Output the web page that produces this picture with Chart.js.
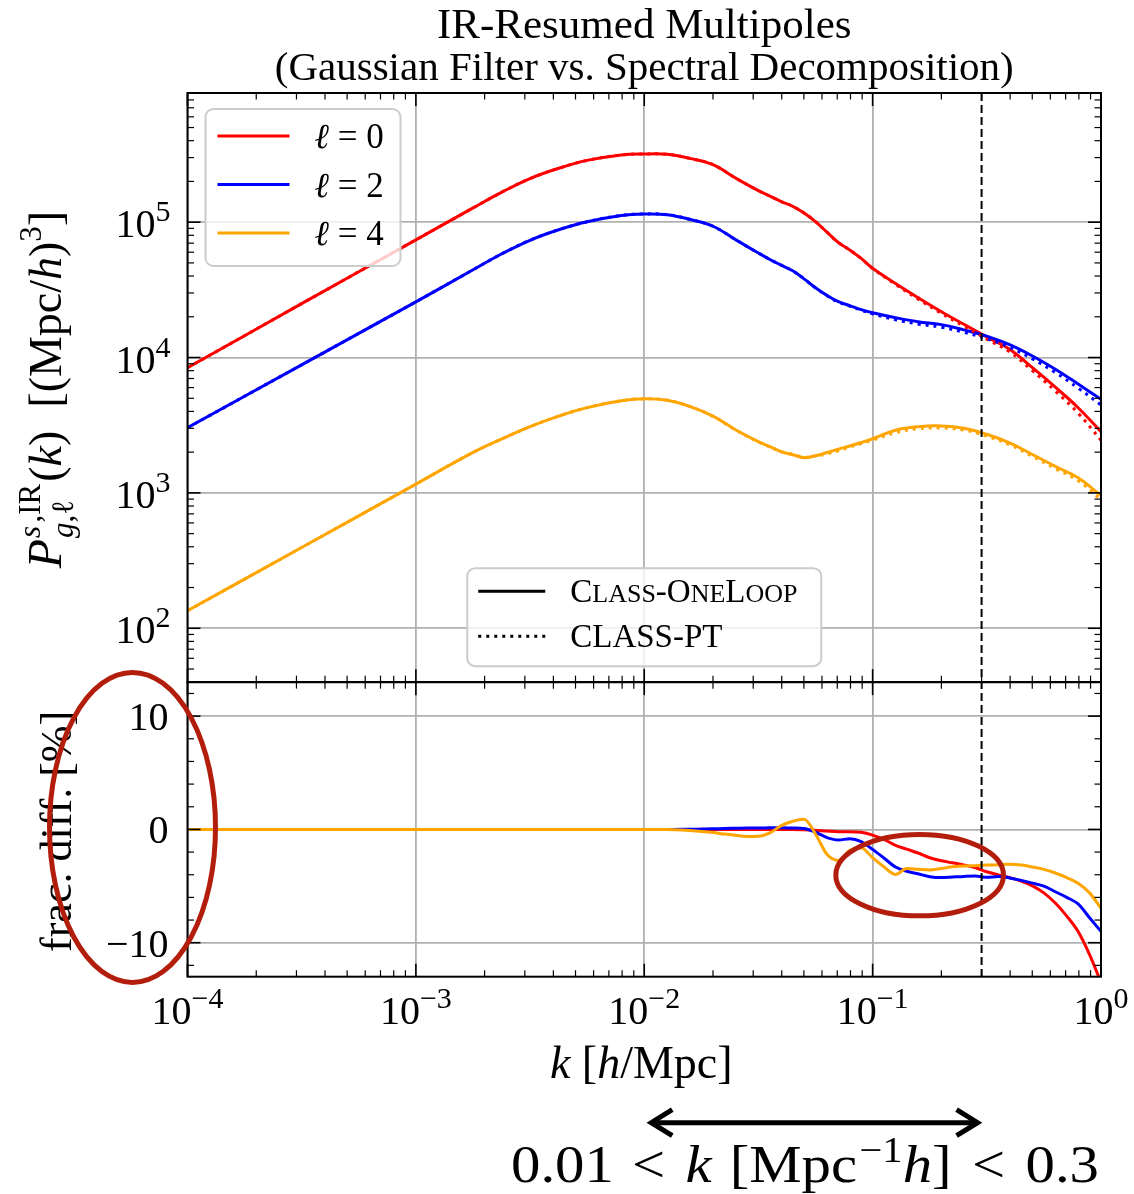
<!DOCTYPE html>
<html>
<head>
<meta charset="utf-8">
<script src="https://cdn.jsdelivr.net/npm/chart.js@4.4.1/dist/chart.umd.min.js"></script>
<style>
  html, body { margin: 0; padding: 0; background: #fff; }
</style>
</head>
<body>
<canvas id="c" width="1134" height="1194"></canvas>
<script>
// values

// top panel: k [h/Mpc] and P_l(k) [(Mpc/h)^3]
const kTop = [1e-4, 3.16e-4, 1e-3, 1.78e-3, 2.37e-3, 3.16e-3, 4.22e-3, 5.62e-3, 7.94e-3, 1e-2, 1.26e-2, 1.58e-2, 2.0e-2,
  2.51e-2, 3.16e-2, 3.55e-2, 3.98e-2, 4.47e-2, 5.01e-2, 5.62e-2, 6.31e-2, 7.08e-2, 7.94e-2, 8.91e-2,
  0.1, 0.126, 0.158, 0.2, 0.251, 0.316, 0.398, 0.501, 0.631, 0.794, 1.0];

// CLASS-OneLoop (solid)
const p0 = [8.40e3, 2.50e4, 7.40e4, 1.274e5, 1.66e5, 2.10e5, 2.50e5, 2.86e5, 3.14e5, 3.19e5, 3.17e5, 2.96e5, 2.66e5,
  2.12e5, 1.71e5, 1.56e5, 1.42e5, 1.31e5, 1.17e5, 1.01e5, 8.44e4, 7.08e4, 6.24e4, 5.40e4,
  4.57e4, 3.52e4, 2.77e4, 2.18e4, 1.76e4, 1.42e4, 1.15e4, 8.41e3, 6.04e3, 4.26e3, 2.83e3];
const p2 = [3.03e3, 8.83e3, 2.58e4, 4.45e4, 5.82e4, 7.35e4, 8.79e4, 1.007e5, 1.122e5, 1.15e5, 1.136e5, 1.05e5, 9.33e4,
  7.43e4, 5.92e4, 5.30e4, 4.81e4, 4.37e4, 3.81e4, 3.28e4, 2.88e4, 2.59e4, 2.42e4, 2.26e4,
  2.14e4, 1.97e4, 1.84e4, 1.75e4, 1.60e4, 1.44e4, 1.245e4, 1.026e4, 8.20e3, 6.37e3, 4.91e3];
const p4 = [134.6, 395, 1161, 1991, 2495, 3083, 3690, 4266, 4786, 4955, 4831, 4355, 3690,
  2931, 2392, 2193, 2013, 1915, 1822, 1880, 1987, 2104, 2222, 2355,
  2512, 2904, 3083, 3126, 3008, 2710, 2339, 1923, 1571, 1294, 955];

// CLASS-PT (dotted)
const p0pt = [8.40e3, 2.50e4, 7.40e4, 1.274e5, 1.66e5, 2.10e5, 2.50e5, 2.86e5, 3.14e5, 3.19e5, 3.17e5, 2.96e5, 2.66e5,
  2.12e5, 1.71e5, 1.56e5, 1.42e5, 1.31e5, 1.17e5, 1.009e5, 8.43e4, 7.07e4, 6.23e4, 5.39e4,
  4.55e4, 3.47e4, 2.71e4, 2.12e4, 1.705e4, 1.367e4, 1.101e4, 7.99e3, 5.65e3, 3.88e3, 2.45e3];
const p2pt = [3.03e3, 8.83e3, 2.58e4, 4.45e4, 5.82e4, 7.35e4, 8.79e4, 1.007e5, 1.122e5, 1.15e5, 1.136e5, 1.05e5, 9.33e4,
  7.43e4, 5.92e4, 5.30e4, 4.81e4, 4.37e4, 3.81e4, 3.27e4, 2.86e4, 2.566e4, 2.40e4, 2.236e4,
  2.10e4, 1.904e4, 1.768e4, 1.676e4, 1.534e4, 1.379e4, 1.191e4, 9.78e3, 7.75e3, 5.95e3, 4.47e3];
const p4pt = [134.6, 395, 1161, 1991, 2495, 3083, 3690, 4266, 4786, 4955, 4831, 4351, 3680,
  2916, 2378, 2186, 2020, 1929, 1838, 1872, 1943, 2046, 2181, 2317,
  2449, 2789, 2975, 3018, 2911, 2625, 2267, 1859, 1511, 1233, 889];

// bottom panel: fractional difference [%]
const kDiff = [1e-4, 1e-3, 3.16e-3, 6.31e-3, 1e-2, 1.26e-2, 1.58e-2, 2.0e-2, 2.24e-2, 2.51e-2, 2.82e-2,
  3.16e-2, 3.55e-2, 3.98e-2, 4.47e-2, 5.01e-2, 5.62e-2, 6.31e-2, 7.08e-2, 7.94e-2, 8.91e-2,
  0.1, 0.112, 0.126, 0.141, 0.158, 0.178, 0.2, 0.224, 0.251, 0.282, 0.316, 0.355, 0.398, 0.447,
  0.501, 0.562, 0.631, 0.708, 0.794, 0.891, 1.0];
const d0 = [0, 0, 0, 0, 0, 0, 0, 0, 0, 0, 0,
  0, 0, 0, 0, -0.03, -0.08, -0.15, -0.2, -0.2, -0.25,
  -0.5, -0.88, -1.4, -1.74, -2.08, -2.5, -2.77, -2.95, -3.14, -3.38, -3.74, -4.01, -4.25, -4.55,
  -4.98, -5.6, -6.5, -7.65, -9.02, -11.05, -13.5];
const d2 = [0, 0, 0, 0, 0, 0, 0.02, 0.05, 0.08, 0.1, 0.12,
  0.12, 0.14, 0.14, 0.12, 0.08, -0.25, -0.72, -0.93, -0.83, -1.08,
  -1.76, -2.52, -3.32, -3.69, -3.92, -4.17, -4.25, -4.2, -4.15, -4.12, -4.23, -4.15, -4.28, -4.5,
  -4.74, -5.0, -5.5, -6.0, -6.58, -7.8, -9.0];
const d4 = [0, 0, 0, 0, 0, 0, -0.1, -0.28, -0.41, -0.52, -0.62,
  -0.6, -0.3, 0.33, 0.72, 0.9, -0.4, -2.2, -2.75, -1.85, -1.63,
  -2.5, -3.3, -3.97, -3.46, -3.52, -3.58, -3.45, -3.3, -3.22, -3.2, -3.15, -3.12, -3.08, -3.15,
  -3.32, -3.53, -3.85, -4.25, -4.75, -5.6, -6.95];

// axes
const xTicks = [1e-4, 1e-3, 1e-2, 1e-1, 1];
const xTickExp = ['−4', '−3', '−2', '−1', '0'];
const yTicks = [1e2, 1e3, 1e4, 1e5];
const yTickExp = ['2', '3', '4', '5'];
const dTicks = [-10, 0, 10];
const dTickLabels = ['−10', '0', '10'];
const kCut = 0.3;            // dashed line
const kRange = [0.01, 0.3];  // arrow under the axis
const ringK = [0.069, 0.374];  // ellipse round the mid-k residuals
const ringD = [-0.44, -7.63];

const RED = '#ff0000', BLUE = '#0000ff', ORANGE = '#ffa500', RING = '#b31e0c';
const SERIF = '"Liberation Serif", "Times New Roman", serif';
const f = (size, it) => (it ? 'italic ' : '') + size + 'px ' + SERIF;

function pts(ks, vs) {
  return ks.map((k, i) => ({ x: k, y: vs[i] }));
}

function curve(data, color, axis, dotted, order) {
  const ds = {
    data, order, yAxisID: axis,
    borderColor: color, borderWidth: 3,
    borderDash: dotted ? [3, 5] : [],
    pointRadius: 0, fill: false
  };
  // smooth spline for the spectra, monotone for the wiggly residuals
  if (axis === 'y') ds.tension = 0.4;
  else ds.cubicInterpolationMode = 'monotone';
  return ds;
}

function runsWidth(ctx, runs) {
  return runs.reduce((sum, r) => {
    ctx.font = r.font;
    let w = ctx.measureText(r.t).width;
    if (r.under) {
      ctx.font = r.under.font;
      w = Math.max(w, ctx.measureText(r.under.t).width);
    }
    return sum + w + (r.gap || 0);
  }, 0);
}

// text made of pieces with their own font and baseline shift
function drawRuns(ctx, runs, x, y, align) {
  const total = runsWidth(ctx, runs);
  let cx = align === 'center' ? x - total / 2 : align === 'right' ? x - total : x;
  runs.forEach(r => {
    const w = runsWidth(ctx, [r]);
    ctx.font = r.font;
    ctx.fillText(r.t, cx, y + (r.dy || 0));
    if (r.under) {
      ctx.font = r.under.font;
      ctx.fillText(r.under.t, cx, y + r.under.dy);
    }
    cx += w;
  });
  return total;
}

function seg(ctx, x1, y1, x2, y2) {
  ctx.beginPath();
  ctx.moveTo(x1, y1);
  ctx.lineTo(x2, y2);
  ctx.stroke();
}

function pow10(exp) {
  return [{ t: '10', font: f(40) }, { t: exp, font: f(30), dy: -16 }];
}

const overlay = {
  id: 'overlay',
  afterDraw(chart) {
    const { ctx, chartArea: ca, scales } = chart;
    const sx = scales.x, sy = scales.y, sd = scales.yd;
    ctx.save();
    ctx.fillStyle = '#000';
    ctx.strokeStyle = '#000';
    ctx.textAlign = 'left';
    ctx.textBaseline = 'alphabetic';

    // dashed line at k = 0.3
    const xc = sx.getPixelForValue(kCut);
    ctx.lineWidth = 2;
    ctx.setLineDash([8, 4]);
    seg(ctx, xc, ca.top, xc, ca.bottom);
    ctx.setLineDash([]);

    // ticks pointing inwards, all four sides of both panels
    const xMinor = [];
    for (let n = -4; n < 0; n++) for (let m = 2; m < 10; m++) xMinor.push(m * Math.pow(10, n));
    const yMinor = [];
    for (let n = 1; n < 6; n++) for (let m = 2; m < 10; m++) {
      const v = m * Math.pow(10, n);
      if (v >= sy.min && v <= sy.max) yMinor.push(v);
    }
    const dMinor = [-12, -8, -6, -4, -2, 2, 4, 6, 8, 12];

    [[sy, yTicks, yMinor], [sd, dTicks, dMinor]].forEach(([s, major, minor]) => {
      [[xTicks, 13, 1.6], [xMinor, 6.5, 1.2]].forEach(([vals, len, w]) => {
        ctx.lineWidth = w;
        vals.forEach(v => {
          const px = sx.getPixelForValue(v);
          seg(ctx, px, s.top, px, s.top + len);
          seg(ctx, px, s.bottom, px, s.bottom - len);
        });
      });
      [[major, 13, 1.6], [minor, 6.5, 1.2]].forEach(([vals, len, w]) => {
        ctx.lineWidth = w;
        vals.forEach(v => {
          const py = s.getPixelForValue(v);
          seg(ctx, ca.left, py, ca.left + len, py);
          seg(ctx, ca.right, py, ca.right - len, py);
        });
      });
      ctx.lineWidth = 2;
      ctx.strokeRect(ca.left, s.top, ca.right - ca.left, s.bottom - s.top);
    });

    // tick labels
    yTicks.forEach((v, i) => drawRuns(ctx, pow10(yTickExp[i]), ca.left - 17, sy.getPixelForValue(v) + 15, 'right'));
    dTicks.forEach((v, i) => drawRuns(ctx, [{ t: dTickLabels[i], font: f(40) }], ca.left - 19, sd.getPixelForValue(v) + 14, 'right'));
    xTicks.forEach((v, i) => drawRuns(ctx, pow10(xTickExp[i]), sx.getPixelForValue(v), ca.bottom + 47, 'center'));

    // title
    const cxMid = (ca.left + ca.right) / 2;
    drawRuns(ctx, [{ t: 'IR-Resumed Multipoles', font: f(43) }], cxMid, 38, 'center');
    drawRuns(ctx, [{ t: '(Gaussian Filter vs. Spectral Decomposition)', font: f(41) }], cxMid, 80, 'center');

    // axis labels
    drawRuns(ctx, [
      { t: 'k', font: f(46, true) }, { t: ' [', font: f(46) }, { t: 'h', font: f(46, true) }, { t: '/Mpc]', font: f(46) }
    ], cxMid - 3, ca.bottom + 101, 'center');

    ctx.save();
    ctx.translate(61, (sy.top + sy.bottom) / 2 + 2);
    ctx.rotate(-Math.PI / 2);
    drawRuns(ctx, [
      { t: 'P', font: f(48, true), gap: 1 },
      { t: 's', font: f(31, true), dy: -21, under: { t: 'g', font: f(31, true), dy: 12 } },
      { t: ',IR', font: f(31), dy: -21, under: { t: ',ℓ', font: f(31), dy: 12 }, gap: 2 },
      { t: '(', font: f(46) }, { t: 'k', font: f(46, true) }, { t: ')  [(Mpc/', font: f(46) },
      { t: 'h', font: f(46, true) }, { t: ')', font: f(46) }, { t: '3', font: f(31), dy: -20 }, { t: ']', font: f(46) }
    ], 0, 0, 'center');
    ctx.restore();

    ctx.save();
    ctx.translate(71, (sd.top + sd.bottom) / 2 + 2);
    ctx.rotate(-Math.PI / 2);
    drawRuns(ctx, [{ t: 'frac. diff. [%]', font: f(44) }], 0, 0, 'center');
    ctx.restore();

    // legend for the multipoles
    const box = (x, y, w, h) => {
      ctx.beginPath();
      ctx.roundRect(x, y, w, h, 8);
      ctx.fillStyle = 'rgba(255,255,255,0.8)';
      ctx.fill();
      ctx.strokeStyle = '#cccccc';
      ctx.lineWidth = 2;
      ctx.stroke();
      ctx.fillStyle = '#000';
    };
    box(ca.left + 18, ca.top + 16, 195, 157);
    [[RED, '0'], [BLUE, '2'], [ORANGE, '4']].forEach(([c, l], i) => {
      const y = ca.top + 43 + i * 48.5;
      ctx.strokeStyle = c;
      ctx.lineWidth = 3;
      seg(ctx, ca.left + 30, y, ca.left + 102, y);
      drawRuns(ctx, [{ t: 'ℓ', font: f(35, true) }, { t: ' = ', font: f(35) }, { t: l, font: f(35) }], ca.left + 127, y + 12, 'left');
    });

    // legend for the two codes
    const lw = 354, lh = 98;
    const lx = cxMid - lw / 2, ly = sy.bottom - 16 - lh;
    box(lx, ly, lw, lh);
    ctx.strokeStyle = '#000';
    ctx.lineWidth = 3;
    seg(ctx, lx + 11, ly + 23, lx + 78, ly + 23);
    ctx.setLineDash([3, 5]);
    seg(ctx, lx + 11, ly + 68, lx + 78, ly + 68);
    ctx.setLineDash([]);
    drawRuns(ctx, [
      { t: 'C', font: f(33) }, { t: 'LASS', font: f(26) }, { t: '-', font: f(33) }, { t: 'O', font: f(33) },
      { t: 'NE', font: f(26) }, { t: 'L', font: f(33) }, { t: 'OOP', font: f(26) }
    ], lx + 103, ly + 34, 'left');
    drawRuns(ctx, [{ t: 'CLASS-PT', font: f(33) }], lx + 103, ly + 79, 'left');

    // red rings drawn over the figure
    ctx.strokeStyle = RING;
    ctx.lineWidth = 5;
    ctx.beginPath();
    ctx.ellipse(ca.left - 55, sd.getPixelForValue(0) - 2, 83, 155, 0, 0, Math.PI * 2);
    ctx.stroke();
    const rl = sx.getPixelForValue(ringK[0]), rr = sx.getPixelForValue(ringK[1]);
    const rt = sd.getPixelForValue(ringD[0]), rb = sd.getPixelForValue(ringD[1]);
    ctx.beginPath();
    ctx.ellipse((rl + rr) / 2, (rt + rb) / 2, (rr - rl) / 2, (rb - rt) / 2, 0, 0, Math.PI * 2);
    ctx.stroke();

    // fitting range arrow and its label
    const a1 = sx.getPixelForValue(kRange[0]) + 7, a2 = sx.getPixelForValue(kRange[1]) - 4;
    const ay = ca.bottom + 146;
    ctx.strokeStyle = '#000';
    ctx.lineWidth = 5;
    ctx.lineJoin = 'miter';
    seg(ctx, a1, ay, a2, ay);
    ctx.beginPath();
    ctx.moveTo(a1 + 21, ay - 13); ctx.lineTo(a1, ay); ctx.lineTo(a1 + 21, ay + 13);
    ctx.moveTo(a2 - 21, ay - 13); ctx.lineTo(a2, ay); ctx.lineTo(a2 - 21, ay + 13);
    ctx.stroke();

    const note = [
      { t: '0.01', font: f(52), gap: 16 }, { t: '<', font: f(52), gap: 18 }, { t: 'k', font: f(52, true), gap: 16 },
      { t: '[Mpc', font: f(52), gap: 2 }, { t: '−1', font: f(36), dy: -20 }, { t: 'h', font: f(52, true) },
      { t: ']', font: f(52), gap: 18 }, { t: '<', font: f(52), gap: 18 }, { t: '0.3', font: f(52) }
    ];
    ctx.save();
    ctx.translate(511, ca.bottom + 205);
    ctx.scale(588 / runsWidth(ctx, note), 1);
    drawRuns(ctx, note, 0, 0, 'left');
    ctx.restore();

    ctx.restore();
  }
};

const grid = { color: '#b0b0b0', lineWidth: 1.8, drawTicks: false };
function bare(extra) {
  return Object.assign({ ticks: { display: false }, grid, border: { display: false } }, extra);
}

new Chart(document.getElementById('c'), {
  type: 'line',
  data: {
    datasets: [
      curve(pts(kTop, p0), RED, 'y', false, 9),
      curve(pts(kTop, p2), BLUE, 'y', false, 8),
      curve(pts(kTop, p4), ORANGE, 'y', false, 7),
      curve(pts(kTop, p0pt), RED, 'y', true, 6),
      curve(pts(kTop, p2pt), BLUE, 'y', true, 5),
      curve(pts(kTop, p4pt), ORANGE, 'y', true, 4),
      curve(pts(kDiff, d0), RED, 'yd', false, 3),
      curve(pts(kDiff, d2), BLUE, 'yd', false, 2),
      curve(pts(kDiff, d4), ORANGE, 'yd', false, 1)
    ]
  },
  options: {
    responsive: false,
    animation: false,
    devicePixelRatio: 1,
    layout: { padding: { left: 187.5, right: 33, top: 93, bottom: 217.3 } },
    plugins: { legend: { display: false }, tooltip: { enabled: false } },
    scales: {
      x: bare({
        type: 'logarithmic', min: 1e-4, max: 1,
        afterBuildTicks: s => { s.ticks = xTicks.map(v => ({ value: v })); },
        afterFit: s => { s.height = 0; }
      }),
      yd: bare({
        type: 'linear', position: 'left', stack: 'panels', stackWeight: 1, weight: 1,
        min: -13, max: 13,
        afterBuildTicks: s => { s.ticks = dTicks.map(v => ({ value: v })); },
        afterFit: s => { s.width = 0; }
      }),
      y: bare({
        type: 'logarithmic', position: 'left', stack: 'panels', stackWeight: 2, weight: 2,
        min: 40, max: 9e5,
        afterBuildTicks: s => { s.ticks = yTicks.map(v => ({ value: v })); },
        afterFit: s => { s.width = 0; }
      })
    }
  },
  plugins: [overlay]
});
</script>
</body>
</html>
